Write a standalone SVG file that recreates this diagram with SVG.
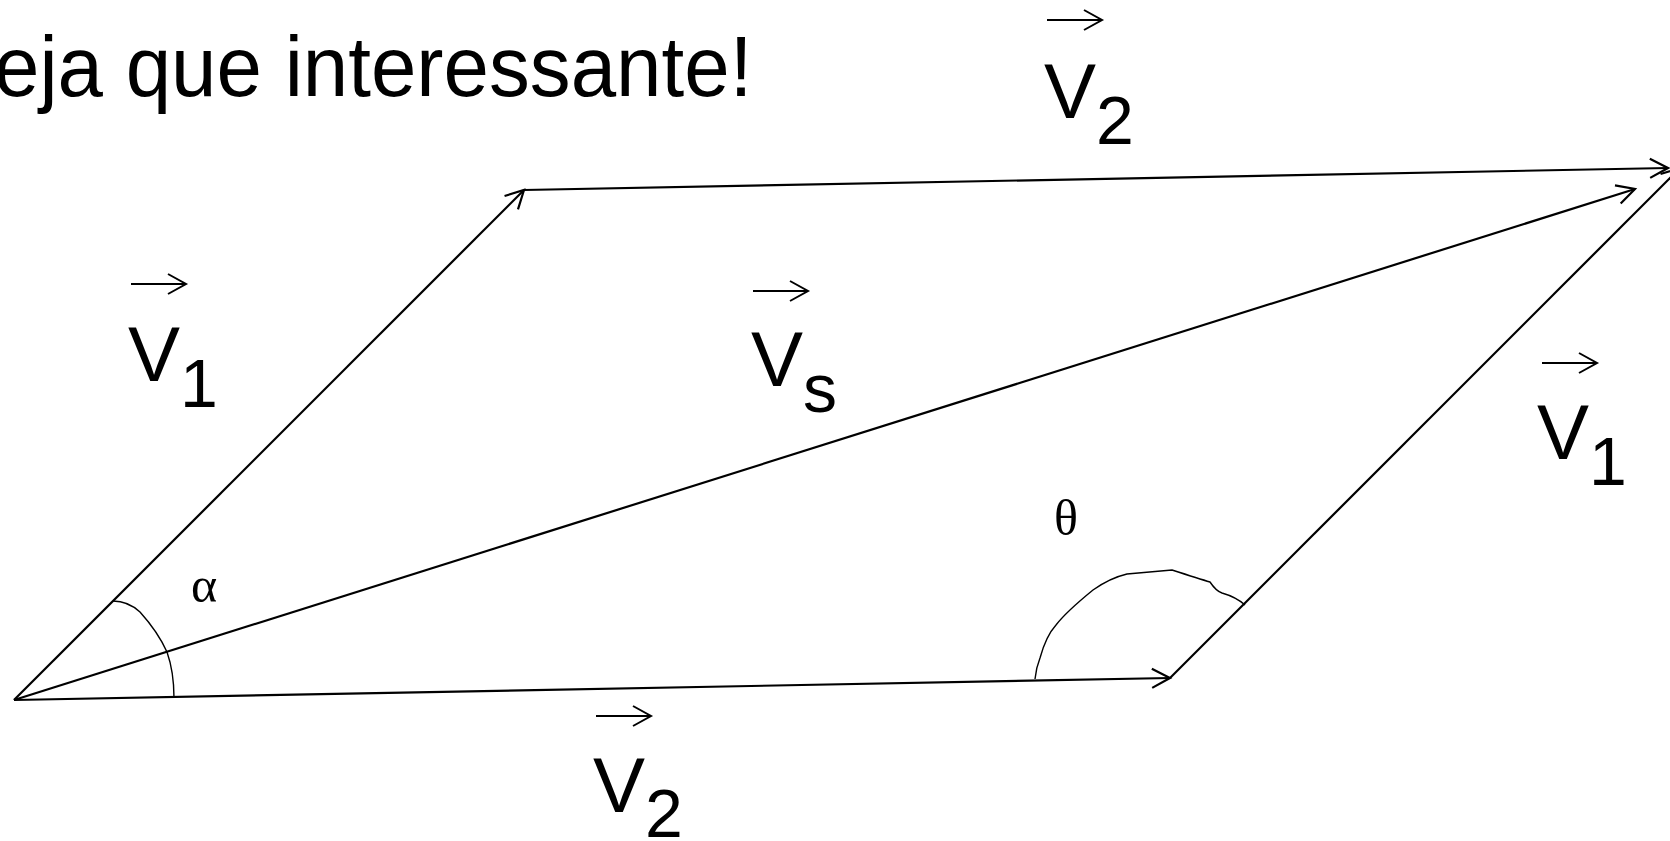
<svg xmlns="http://www.w3.org/2000/svg" width="1670" height="841" viewBox="0 0 1670 841">
<defs>
<style>
.vec{fill:none;stroke:#000;stroke-width:2.2;marker-end:url(#ah)}
.arc{fill:none;stroke:#000;stroke-width:1.4}
.ov{fill:none;stroke:#000;stroke-width:2}
.lbl{font-family:"Liberation Sans",Arial,sans-serif;font-size:78px;fill:#000}
.sub{font-size:68px}
.gr{font-family:"Liberation Serif","Times New Roman",serif;font-size:50px;fill:#000}
.title{font-family:"Liberation Sans",Arial,sans-serif;font-size:86px;fill:#000}
</style>
<marker id="ah" markerUnits="userSpaceOnUse" viewBox="-24 -14 28 28" markerWidth="28" markerHeight="28" refX="0" refY="0" orient="auto" overflow="visible">
<path d="M-18,-9.5 L0,0 L-18,9.5" fill="none" stroke="#000" stroke-width="2.2"/>
</marker>
<path id="ovarrow" d="M0,0 H55 M37,-10 L55,0 L37,10"/>
</defs>
<rect width="1670" height="841" fill="#fff"/>
<text class="title" transform="translate(-6,96) scale(0.95,1)" x="0" y="0">eja que interessante!</text>
<g id="connectors">
<path class="vec" d="M14,700 L524,190"/>
<path class="vec" d="M524,190 L1668,168"/>
<path class="vec" d="M14,700 L1635,189"/>
<path class="vec" d="M1170,678 L1680,168"/>
<path class="vec" d="M14,700 L1170,678"/>
</g>
<g id="angle-alpha">
<path class="arc" d="M113,601 Q128,601 140,612 Q158,632 167,652 Q174,672 174,698"/>
<text class="gr" x="191" y="602">α</text>
</g>
<g id="angle-theta">
<path class="arc" d="M1035,679 Q1036,668 1040,658 Q1046,636 1056,625 Q1066,612 1093,590 Q1110,578 1127,574 L1172,570 Q1200,579 1210,582 Q1216,591 1222,593 Q1236,597 1245,605"/>
<text class="gr" x="1054" y="535">θ</text>
</g>
<g id="label-v1-left">
<use href="#ovarrow" class="ov" x="131" y="284"/>
<text class="lbl" x="128" y="381">V<tspan class="sub" dy="26">1</tspan></text>
</g>
<g id="label-vs">
<use href="#ovarrow" class="ov" x="753" y="291"/>
<text class="lbl" x="751" y="386">V<tspan class="sub" dy="26">s</tspan></text>
</g>
<g id="label-v1-right">
<use href="#ovarrow" class="ov" x="1542" y="363"/>
<text class="lbl" x="1537" y="459">V<tspan class="sub" dy="26">1</tspan></text>
</g>
<g id="label-v2-top">
<use href="#ovarrow" class="ov" x="1047" y="20"/>
<text class="lbl" x="1044" y="118">V<tspan class="sub" dy="26">2</tspan></text>
</g>
<g id="label-v2-bottom">
<use href="#ovarrow" class="ov" x="596" y="716"/>
<text class="lbl" x="593" y="812">V<tspan class="sub" dy="25">2</tspan></text>
</g>
</svg>
